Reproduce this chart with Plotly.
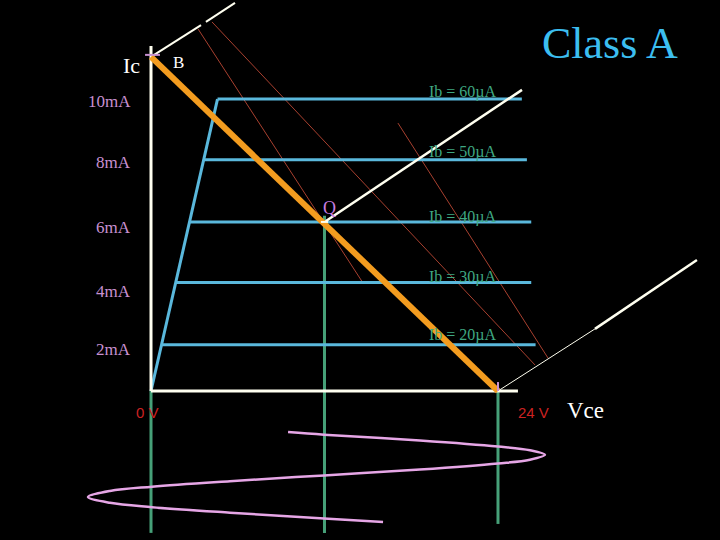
import plotly.graph_objects as go

# ---- data (Vce in volts, Ic in mA) ----
ib_labels = ["Ib = 60\u00b5A", "Ib = 50\u00b5A", "Ib = 40\u00b5A", "Ib = 30\u00b5A", "Ib = 20\u00b5A"]
ib_ic = [10.1, 8.0, 5.85, 3.75, 1.6]          # collector current of each Ib curve
ib_knee_v = [4.6, 3.65, 2.7, 1.7, 0.75]       # where flat part starts
ib_end_v = [25.65, 26.0, 26.3, 26.3, 26.6]    # where flat part ends
ib_label_ic = [10.35, 8.27, 6.02, 3.94, 1.94]
ib_label_v = 19.1

ytick_text = ["10mA", "8mA", "6mA", "4mA", "2mA"]
ytick_pos = [10.0, 7.89, 5.64, 3.46, 1.42]

vcc = 24.0
ic_sat = 11.56
q_v, q_ic = 12.0, 5.85

load_v = [0.0, vcc]
load_ic = [ic_sat, 0.0]

axis_y_top = 11.94
axis_x_end = 25.38

# projection axes (white)
projB_v = [[0.0, 3.46], [3.80, 5.81]]
projB_ic = [[11.56, 12.66], [12.77, 13.43]]
projQ_v = [12.0, 25.66]
projQ_ic = [5.85, 10.42]
proj24_thin_v = [24.0, 30.71]
proj24_thin_ic = [0.0, 2.15]
proj24_v = [30.71, 37.76]
proj24_ic = [2.15, 4.53]

# thin red lines
red_v = [[3.25, 14.66], [4.22, 26.56], [17.08, 27.46]]
red_ic = [[12.53, 3.74], [12.77, 0.90], [9.27, 1.14]]

# green drop lines
green_v = [0.0, 12.0, 24.0]
green_top = [0.0, 6.06, 0.0]
green_bot = [-4.91, -4.91, -4.6]

# output waveform (pink)
wave_v = [9.48, 11.97, 18.6, 24.0, 26.21, 27.25, 26.21, 24.0, 18.6, 11.97, 5.46, 0.07,
          -2.84, -4.36, -2.84, 0.07, 5.46, 11.97, 16.05]
wave_ic = [-1.42, -1.51, -1.71, -1.92, -2.05, -2.21, -2.38, -2.51, -2.72, -2.92, -3.12, -3.31,
           -3.46, -3.67, -3.87, -4.02, -4.21, -4.41, -4.53]

CYAN = "#5ab8dc"
WHITE = "#fffff0"
RED = "#a8402f"
GREEN = "#46a078"
PINK = "#e6a6e6"
PLUM = "#c890d0"
TEXTGREEN = "#3fa882"

fig = go.Figure()

def line(x, y, color, width, dash=None, shape="linear"):
    fig.add_trace(go.Scatter(x=x, y=y, mode="lines", hoverinfo="skip", showlegend=False,
                             line=dict(color=color, width=width, dash=dash, shape=shape)))

# green verticals
for v, t, b in zip(green_v, green_top, green_bot):
    line([v, v], [t, b], GREEN, 3)

# waveform
line(wave_v, wave_ic, PINK, 2.5, shape="spline")

# red thin lines
for xv, yv in zip(red_v, red_ic):
    line(xv, yv, RED, 1)

# Ib characteristic curves
line([0.0, ib_knee_v[0]], [0.0, ib_ic[0]], CYAN, 3)
for kv, ic, ev in zip(ib_knee_v, ib_ic, ib_end_v):
    line([kv, ev], [ic, ic], CYAN, 3)

# axes
line([0, 0], [axis_y_top, 0], WHITE, 3)
line([0, axis_x_end], [0, 0], WHITE, 3)

# projection axes
for xv, yv in zip(projB_v, projB_ic):
    line(xv, yv, WHITE, 2)
line(projQ_v, projQ_ic, WHITE, 2.5)
line(proj24_thin_v, proj24_thin_ic, WHITE, 1)
line(proj24_v, proj24_ic, WHITE, 2.5)

# load line
line(load_v, load_ic, "#f39c1f", 6)

# small markers
line([-0.41, 0.62], [11.63, 11.63], PLUM, 2)
line([vcc, vcc], [0.31, 0.0], PLUM, 2)
line([q_v - 0.25, q_v + 0.25], [q_ic, q_ic], WHITE, 2)

serif = "Liberation Serif, Times New Roman, serif"
sans = "Liberation Sans, Arial, sans-serif"

for t, p in zip(ytick_text, ytick_pos):
    fig.add_annotation(x=-1.25, y=p, text=t, showarrow=False, xanchor="right", yanchor="middle",
                       font=dict(family=serif, size=17, color=PLUM))
for t, p in zip(ib_labels, ib_label_ic):
    fig.add_annotation(x=ib_label_v, y=p, text=t, showarrow=False, xanchor="left", yanchor="middle",
                       font=dict(family=serif, size=16, color=TEXTGREEN))

fig.add_annotation(x=-1.38, y=11.25, text="Ic", showarrow=False, font=dict(family=serif, size=22, color="white"))
fig.add_annotation(x=1.87, y=11.38, text="B", showarrow=False, font=dict(family=serif, size=17, color="white"))
fig.add_annotation(x=12.38, y=6.33, text="Q", showarrow=False, font=dict(family=serif, size=18, color="#c87ee0"))
fig.add_annotation(x=31.75, y=12.04, text="Class A", showarrow=False, font=dict(family=serif, size=44, color="#3cbef0"))
fig.add_annotation(x=30.02, y=-0.66, text="Vce", showarrow=False, font=dict(family=serif, size=23, color="white"))
fig.add_annotation(x=-0.21, y=-0.76, text="0 V", showarrow=False, font=dict(family=sans, size=15, color="#cc2222"))
fig.add_annotation(x=26.49, y=-0.76, text="24 V", showarrow=False, font=dict(family=sans, size=15, color="#cc2222"))

fig.update_layout(
    width=720, height=540, margin=dict(l=0, r=0, t=0, b=0),
    paper_bgcolor="black", plot_bgcolor="black",
    xaxis=dict(range=[-10.444, 39.356], visible=False, fixedrange=True),
    yaxis=dict(range=[-5.156, 13.529], visible=False, fixedrange=True),
)

fig.write_html("out.html", config={"displayModeBar": False},
               post_script="document.body.style.margin='0';document.body.style.background='black';")
